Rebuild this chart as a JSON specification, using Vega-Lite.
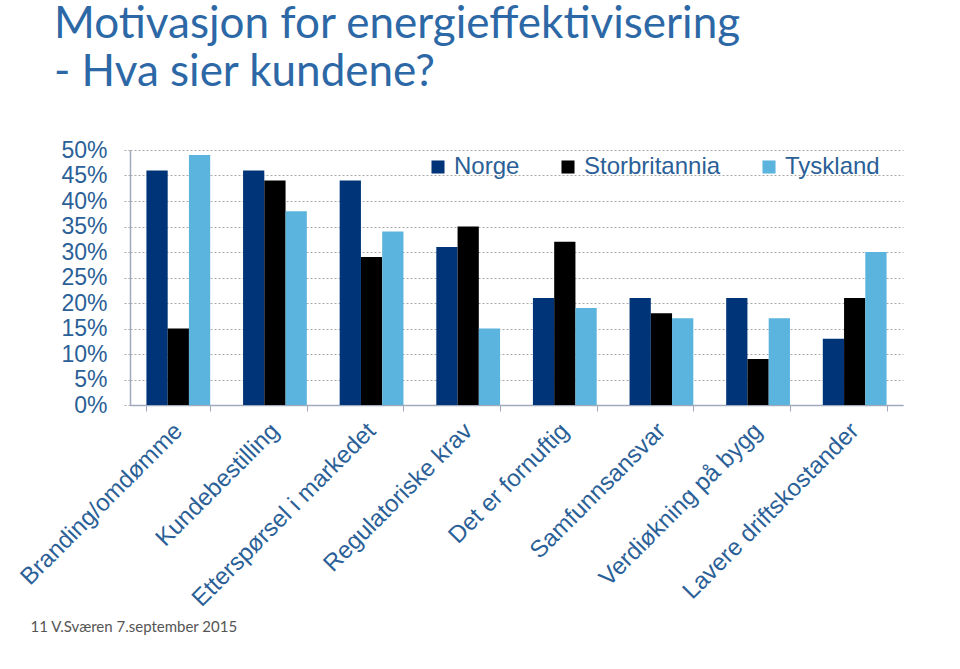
{
  "$schema": "https://vega.github.io/schema/vega-lite/v6.json",
  "autosize": {"type": "none"},
  "width": 773,
  "height": 255,
  "padding": {"left": 130, "top": 150, "right": 57, "bottom": 264},
  "background": "white",
  "title": {
    "text": ["Motivasjon for energieffektivisering", " - Hva sier kundene?"],
    "anchor": "start",
    "frame": "group",
    "dx": -76,
    "offset": 44,
    "font": "Lato",
    "fontSize": 44,
    "fontWeight": "normal",
    "color": "#2d68a6",
    "lineHeight": 48
  },
  "data": {
    "values": [
      {"k": "Branding/omdømme", "land": "Norge", "v": 0.46},
      {"k": "Branding/omdømme", "land": "Storbritannia", "v": 0.15},
      {"k": "Branding/omdømme", "land": "Tyskland", "v": 0.49},
      {"k": "Kundebestilling", "land": "Norge", "v": 0.46},
      {"k": "Kundebestilling", "land": "Storbritannia", "v": 0.44},
      {"k": "Kundebestilling", "land": "Tyskland", "v": 0.38},
      {"k": "Etterspørsel i markedet", "land": "Norge", "v": 0.44},
      {"k": "Etterspørsel i markedet", "land": "Storbritannia", "v": 0.29},
      {"k": "Etterspørsel i markedet", "land": "Tyskland", "v": 0.34},
      {"k": "Regulatoriske krav", "land": "Norge", "v": 0.31},
      {"k": "Regulatoriske krav", "land": "Storbritannia", "v": 0.35},
      {"k": "Regulatoriske krav", "land": "Tyskland", "v": 0.15},
      {"k": "Det er fornuftig", "land": "Norge", "v": 0.21},
      {"k": "Det er fornuftig", "land": "Storbritannia", "v": 0.32},
      {"k": "Det er fornuftig", "land": "Tyskland", "v": 0.19},
      {"k": "Samfunnsansvar", "land": "Norge", "v": 0.21},
      {"k": "Samfunnsansvar", "land": "Storbritannia", "v": 0.18},
      {"k": "Samfunnsansvar", "land": "Tyskland", "v": 0.17},
      {"k": "Verdiøkning på bygg", "land": "Norge", "v": 0.21},
      {"k": "Verdiøkning på bygg", "land": "Storbritannia", "v": 0.09},
      {"k": "Verdiøkning på bygg", "land": "Tyskland", "v": 0.17},
      {"k": "Lavere driftskostander", "land": "Norge", "v": 0.13},
      {"k": "Lavere driftskostander", "land": "Storbritannia", "v": 0.21},
      {"k": "Lavere driftskostander", "land": "Tyskland", "v": 0.30}
    ]
  },
  "mark": {"type": "bar"},
  "encoding": {
    "x": {
      "field": "k",
      "type": "nominal",
      "sort": null,
      "scale": {"paddingInner": 0.34, "paddingOuter": 0.17},
      "axis": {
        "title": "11  V.Sværen 7.september 2015",
        "titleFont": "Lato",
        "titleFontSize": 15,
        "titleFontWeight": "normal",
        "titleColor": "#555555",
        "titleAnchor": "start",
        "titleAlign": "left",
        "titleX": -100,
        "titleY": 214,
        "labelAngle": -45,
        "labelAlign": "right",
        "labelBaseline": "middle",
        "labelPadding": 16,
        "labelFont": "Liberation Sans",
        "labelFontSize": 24,
        "labelColor": "#2b5f97",
        "labelLimit": 400,
        "tickBand": "extent",
        "tickSize": 6,
        "tickColor": "#a0aabb",
        "domainColor": "#a0aabb",
        "domainWidth": 1.5
      }
    },
    "xOffset": {
      "field": "land",
      "type": "nominal",
      "scale": {"paddingInner": 0, "paddingOuter": 0}
    },
    "y": {
      "field": "v",
      "type": "quantitative",
      "scale": {"domain": [0, 0.5], "nice": false},
      "axis": {
        "title": null,
        "format": ".0%",
        "values": [0, 0.05, 0.1, 0.15, 0.2, 0.25, 0.3, 0.35, 0.4, 0.45, 0.5],
        "labelFont": "Liberation Sans",
        "labelFontSize": 23,
        "labelColor": "#2b5f97",
        "labelPadding": 16,
        "tickSize": 7,
        "tickColor": "#a8a8a8",
        "tickDash": [2, 2],
        "gridColor": "#a8a8a8",
        "gridDash": [2, 2],
        "gridWidth": 1,
        "domainColor": "#a0aabb",
        "domainWidth": 1.5
      }
    },
    "color": {
      "field": "land",
      "type": "nominal",
      "scale": {
        "domain": ["Norge", "Storbritannia", "Tyskland"],
        "range": ["#003478", "#000000", "#5ab4de"]
      },
      "legend": {
        "title": null,
        "orient": "none",
        "legendX": 296,
        "legendY": 5,
        "direction": "horizontal",
        "symbolType": "square",
        "symbolSize": 170,
        "symbolStrokeWidth": 0,
        "labelFont": "Liberation Sans",
        "labelFontSize": 24,
        "labelColor": "#2b5f97",
        "labelOffset": 4,
        "columnPadding": 36,
        "labelLimit": 300
      }
    }
  },
  "config": {
    "view": {"stroke": null},
    "axisX": {"grid": false}
  }
}
